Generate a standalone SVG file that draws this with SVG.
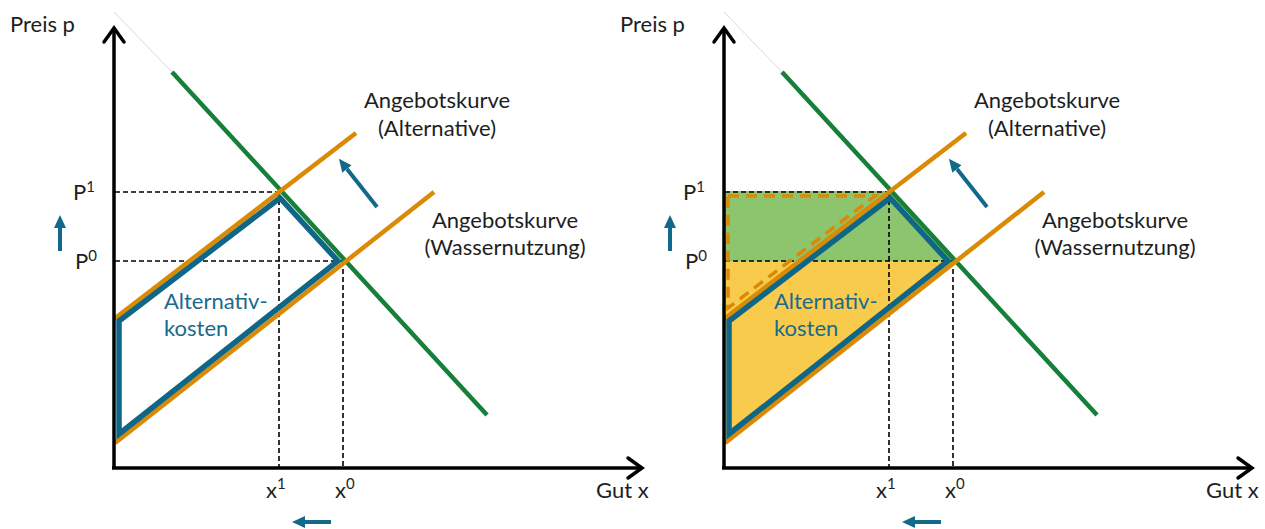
<svg xmlns="http://www.w3.org/2000/svg" width="1265" height="529" viewBox="0 0 1265 529">
<defs>
<style>
.txt{font-family:Lato,"Liberation Sans",sans-serif;font-size:22px;fill:#1e1e1e}
.sup{font-size:15px}
.blt{font-family:Lato,"Liberation Sans",sans-serif;font-size:22px;fill:#1a6a8c}
.axis{stroke:#000;stroke-width:3.5;fill:none}
.head{stroke:#000;stroke-width:3.5;fill:none;stroke-linecap:round;stroke-linejoin:miter}
.dash{stroke:#000;stroke-width:1.6;stroke-dasharray:5 3;fill:none}
.green{stroke:#16803a;stroke-width:4.5;fill:none}
.orange{stroke:#da8a05;stroke-width:4.5;fill:none}
.blue{stroke:#0f6687;stroke-width:5.5;fill:none;stroke-linejoin:miter}
.barrow{stroke:#13698a;stroke-width:4;fill:none}
.faint{stroke:#cfcfcf;stroke-width:0.8;fill:none}
.odash{stroke:#da8a05;stroke-width:3.5;stroke-dasharray:11 7;fill:none}
</style>
<marker id="ah" viewBox="0 0 13 12" refX="0" refY="6" markerWidth="13" markerHeight="12" markerUnits="userSpaceOnUse" orient="auto">
<path d="M0,0 L13,6 L0,12 z" fill="#13698a"/>
</marker>
</defs>
<rect width="1265" height="529" fill="#fff"/>

<g id="panel-right-fills">
<polygon points="725,191 891,191 955,261 725,261" fill="#8dc46e"/>
<polygon points="725,261 955,261 725,443" fill="#f9cb4c"/>
</g>

<g id="connectors">
<!-- left panel -->
<g id="left-dashed">
<line class="dash" x1="115" y1="192" x2="281" y2="192"/>
<line class="dash" x1="115" y1="261" x2="345" y2="261"/>
<line class="dash" x1="279" y1="192" x2="279" y2="467"/>
<line class="dash" x1="343" y1="261" x2="343" y2="467"/>
</g>
<line class="faint" x1="114" y1="12" x2="172" y2="72"/>
<line class="green" x1="172" y1="72" x2="487" y2="415"/>
<line class="orange" x1="114" y1="319" x2="356" y2="133"/>
<line class="orange" x1="115" y1="443" x2="434" y2="192"/>
<polygon class="blue" points="119,321 280,198 338,261 119,434"/>
<line class="barrow" x1="60" y1="251" x2="60" y2="228" marker-end="url(#ah)"/>
<line class="barrow" x1="331" y1="522" x2="305" y2="522" marker-end="url(#ah)"/>
<line class="barrow" x1="377" y1="207" x2="347" y2="169" marker-end="url(#ah)"/>
<line class="axis" x1="114" y1="29" x2="114" y2="469"/>
<line class="axis" x1="112" y1="468" x2="641" y2="468"/>
<polyline class="head" points="104,42 114,28 124,42"/>
<polyline class="head" points="628,458 642,468 628,478"/>

<!-- right panel -->
<g id="right-dashed">
<line class="dash" x1="725" y1="192" x2="891" y2="192"/>
<line class="dash" x1="725" y1="261" x2="955" y2="261"/>
<line class="dash" x1="889" y1="192" x2="889" y2="467"/>
<line class="dash" x1="953" y1="261" x2="953" y2="467"/>
</g>
<polygon class="odash" points="728,196 875,196 728,308"/>
<line class="faint" x1="724" y1="12" x2="782" y2="72"/>
<line class="green" x1="782" y1="72" x2="1097" y2="415"/>
<line class="orange" x1="724" y1="319" x2="966" y2="133"/>
<line class="orange" x1="725" y1="443" x2="1044" y2="192"/>
<polygon class="blue" points="729,321 890,198 948,261 729,434"/>
<line class="barrow" x1="670" y1="251" x2="670" y2="228" marker-end="url(#ah)"/>
<line class="barrow" x1="941" y1="522" x2="915" y2="522" marker-end="url(#ah)"/>
<line class="barrow" x1="987" y1="207" x2="957" y2="169" marker-end="url(#ah)"/>
<line class="axis" x1="724" y1="29" x2="724" y2="469"/>
<line class="axis" x1="722" y1="468" x2="1251" y2="468"/>
<polyline class="head" points="714,42 724,28 734,42"/>
<polyline class="head" points="1238,458 1252,468 1238,478"/>
</g>

<g id="labels-left">
<text class="txt" x="10" y="32">Preis p</text>
<text class="txt" x="73" y="200">P<tspan class="sup" dy="-8">1</tspan></text>
<text class="txt" x="75" y="269">P<tspan class="sup" dy="-8">0</tspan></text>
<text class="txt" x="266" y="498">x<tspan class="sup" dy="-9">1</tspan></text>
<text class="txt" x="335" y="498">x<tspan class="sup" dy="-9">0</tspan></text>
<text class="txt" x="596" y="498">Gut x</text>
<text class="txt" x="437" y="108" text-anchor="middle">Angebotskurve</text>
<text class="txt" x="437" y="136" text-anchor="middle">(Alternative)</text>
<text class="txt" x="505" y="228" text-anchor="middle">Angebotskurve</text>
<text class="txt" x="505" y="255" text-anchor="middle">(Wassernutzung)</text>
<text class="blt" x="164" y="309">Alternativ-</text>
<text class="blt" x="164" y="336">kosten</text>
</g>

<g id="labels-right">
<text class="txt" x="620" y="32">Preis p</text>
<text class="txt" x="683" y="200">P<tspan class="sup" dy="-8">1</tspan></text>
<text class="txt" x="685" y="269">P<tspan class="sup" dy="-8">0</tspan></text>
<text class="txt" x="876" y="498">x<tspan class="sup" dy="-9">1</tspan></text>
<text class="txt" x="945" y="498">x<tspan class="sup" dy="-9">0</tspan></text>
<text class="txt" x="1206" y="498">Gut x</text>
<text class="txt" x="1047" y="108" text-anchor="middle">Angebotskurve</text>
<text class="txt" x="1047" y="136" text-anchor="middle">(Alternative)</text>
<text class="txt" x="1115" y="228" text-anchor="middle">Angebotskurve</text>
<text class="txt" x="1115" y="255" text-anchor="middle">(Wassernutzung)</text>
<text class="blt" x="774" y="309">Alternativ-</text>
<text class="blt" x="774" y="336">kosten</text>
</g>
</svg>
